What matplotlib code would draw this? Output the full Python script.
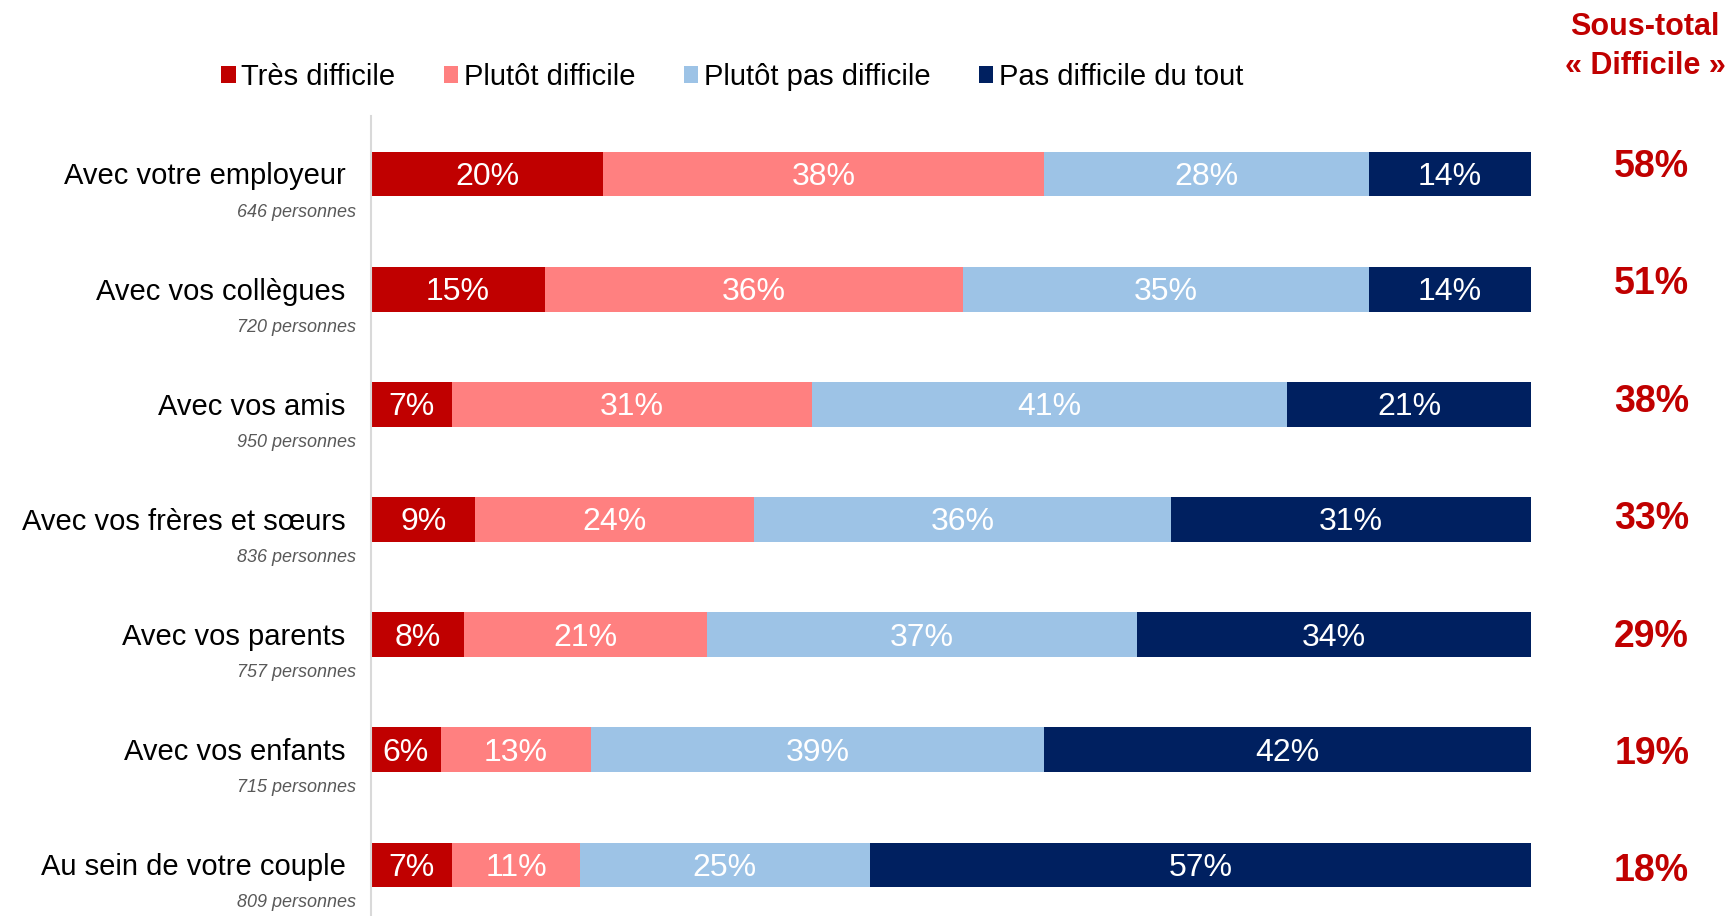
import matplotlib
matplotlib.use("Agg")
import matplotlib.pyplot as plt
from matplotlib.patches import Patch

plt.rcParams["font.family"] = ["Liberation Sans", "DejaVu Sans"]

categories = ["Avec votre employeur", "Avec vos collègues", "Avec vos amis",
              "Avec vos frères et sœurs", "Avec vos parents", "Avec vos enfants",
              "Au sein de votre couple"]
counts = ["646 personnes", "720 personnes", "950 personnes", "836 personnes",
          "757 personnes", "715 personnes", "809 personnes"]
series = ["Très difficile", "Plutôt difficile", "Plutôt pas difficile", "Pas difficile du tout"]
tres_difficile = [20, 15, 7, 9, 8, 6, 7]
plutot_difficile = [38, 36, 31, 24, 21, 13, 11]
plutot_pas = [28, 35, 41, 36, 37, 39, 25]
pas_du_tout = [14, 14, 21, 31, 34, 42, 57]
sous_total = [58, 51, 38, 33, 29, 19, 18]

colors = ["#C00000", "#FF8080", "#9DC3E6", "#002060"]

fig = plt.figure(figsize=(17.3, 9.16), dpi=100)
ax = fig.add_axes([371 / 1730, 0, 1160 / 1730, 1 - 116 / 916])

rows = list(range(len(categories)))
left = [0] * len(categories)
for vals, col in zip([tres_difficile, plutot_difficile, plutot_pas, pas_du_tout], colors):
    ax.barh(rows, vals, left=left, height=0.39, color=col, edgecolor="none")
    for i, (l, v) in enumerate(zip(left, vals)):
        ax.text(l + v / 2, i + 0.025, f"{v}%", ha="center", va="center",
                color="white", fontsize=23)
    left = [a + b for a, b in zip(left, vals)]

ax.set_xlim(0, 100)
ax.set_ylim(6.443, -0.504)
ax.set_xticks([])
ax.set_yticks([])
for s in ["top", "right", "bottom"]:
    ax.spines[s].set_visible(False)
ax.spines["left"].set_color("#D9D9D9")
ax.spines["left"].set_linewidth(1.5)

# category labels + sample sizes
for i, (cat, n) in enumerate(zip(categories, counts)):
    ax.text(-2.2, i + 0.02, cat, ha="right", va="center", fontsize=21, color="black")
    ax.text(-1.3, i + 0.33, n, ha="right", va="center", fontsize=13,
            style="italic", color="#595959")

# sous-total column
for i, v in enumerate(sous_total):
    ax.text(110.4, i * 1.019 - 0.06, f"{v}%", ha="center", va="center",
            fontsize=27, fontweight="bold", color="#C00000", clip_on=False)
fig.text(1645 / 1730, 1 - 27 / 916, "Sous-total", ha="center", va="center",
         fontsize=22, fontweight="bold", color="#C00000")
fig.text(1645 / 1730, 1 - 66 / 916, "« Difficile »", ha="center", va="center",
         fontsize=22, fontweight="bold", color="#C00000")

handles = [Patch(facecolor=c, edgecolor="none") for c in colors]
fig.legend(handles, series, loc="center left", bbox_to_anchor=(221 / 1730, 1 - 77 / 916),
           ncol=4, frameon=False, fontsize=21, handlelength=0.5, handleheight=0.5,
           handletextpad=0.2, columnspacing=1.65, borderpad=0, borderaxespad=0)

fig.savefig("out.png", dpi=100)
